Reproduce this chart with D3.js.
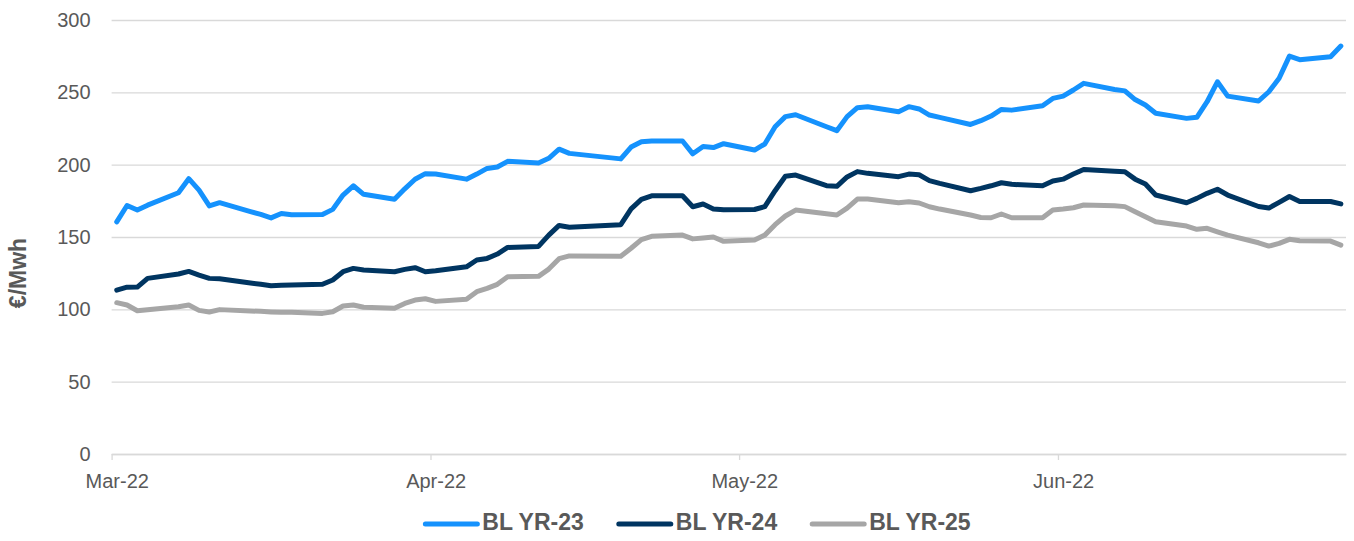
<!DOCTYPE html>
<html>
<head>
<meta charset="utf-8">
<script src="https://cdn.jsdelivr.net/npm/d3@7.9.0/dist/d3.min.js"></script>
<style>
  html, body { margin: 0; padding: 0; background: #fff; }
  svg { display: block; font-family: "Liberation Sans", Arial, sans-serif; }
</style>
</head>
<body>
<svg id="chart" width="1354" height="541"></svg>
<script>
// trading days, Mar-Jun 2022
const dates = [
  "2022-03-01","2022-03-02","2022-03-03","2022-03-04","2022-03-07","2022-03-08","2022-03-09","2022-03-10","2022-03-11",
  "2022-03-14","2022-03-15","2022-03-16","2022-03-17","2022-03-18","2022-03-21","2022-03-22","2022-03-23","2022-03-24",
  "2022-03-25","2022-03-28","2022-03-29","2022-03-30","2022-03-31",
  "2022-04-01","2022-04-04","2022-04-05","2022-04-06","2022-04-07","2022-04-08","2022-04-11","2022-04-12","2022-04-13",
  "2022-04-14","2022-04-19","2022-04-20","2022-04-21","2022-04-22","2022-04-25","2022-04-26","2022-04-27","2022-04-28",
  "2022-04-29",
  "2022-05-02","2022-05-03","2022-05-04","2022-05-05","2022-05-06","2022-05-09","2022-05-10","2022-05-11","2022-05-12",
  "2022-05-13","2022-05-16","2022-05-17","2022-05-18","2022-05-19","2022-05-20","2022-05-23","2022-05-24","2022-05-25",
  "2022-05-26","2022-05-27","2022-05-30","2022-05-31",
  "2022-06-01","2022-06-02","2022-06-03","2022-06-06","2022-06-07","2022-06-08","2022-06-09","2022-06-10","2022-06-13",
  "2022-06-14","2022-06-15","2022-06-16","2022-06-17","2022-06-20","2022-06-21","2022-06-22","2022-06-23","2022-06-24",
  "2022-06-27","2022-06-28"
];

const yr23 = [
  160.5, 171.8, 168.6, 172.0, 180.6, 190.3, 182.4, 171.5, 173.7, 167.6, 165.6, 163.2, 166.3, 165.4, 165.6, 169.1, 179.0, 185.4, 179.5, 176.1, 183.3, 189.9, 193.8,
  193.5, 190.0, 193.5, 197.4, 198.4, 202.3, 201.2, 204.4, 210.7, 207.8, 204.0, 212.2, 215.9, 216.4, 216.4, 207.5, 212.6, 211.8, 214.5,
  210.1, 214.3, 226.2, 233.2, 234.5, 226.2, 223.5, 233.2, 239.4, 240.0, 236.6, 240.1, 238.5, 234.3, 232.7, 227.8, 230.4, 233.6, 238.2, 237.7, 240.7, 245.8,
  247.4, 251.6, 256.2, 252.0, 251.0, 245.0, 241.2, 235.5, 232.0, 232.7, 243.5, 257.3, 247.4, 244.0, 250.4, 259.7, 275.0, 272.6, 274.6, 282.0
];
const yr24 = [
  113.3, 115.3, 115.4, 121.4, 124.4, 126.2, 123.7, 121.4, 121.1, 118.2, 117.3, 116.3, 116.6, 116.8, 117.3, 120.3, 126.0, 128.3, 127.2, 126.0, 127.6, 128.8, 126.0,
  126.7, 129.4, 134.1, 135.2, 138.2, 142.8, 143.5, 151.3, 158.0, 156.8, 158.5, 169.4, 176.0, 178.5, 178.5, 170.9, 172.8, 169.4, 168.8,
  169.0, 171.0, 182.0, 192.0, 192.8, 185.5, 185.0, 191.5, 195.2, 194.0, 191.7, 193.5, 193.0, 189.0, 187.1, 182.0, 183.6, 185.4, 187.5, 186.4, 185.4, 188.7,
  190.0, 193.5, 196.7, 195.5, 195.1, 190.0, 186.6, 179.0, 173.7, 176.7, 180.2, 183.0, 179.0, 171.1, 170.0, 173.9, 178.0, 174.5, 174.5, 172.9
];
const yr25 = [
  104.6, 103.0, 99.0, 99.7, 101.8, 103.0, 99.3, 98.2, 99.8, 98.9, 98.6, 98.2, 97.9, 97.9, 97.2, 98.3, 102.3, 103.0, 101.4, 100.7, 104.1, 106.4, 107.3,
  105.5, 106.9, 112.2, 114.5, 117.3, 122.5, 122.8, 127.8, 135.0, 136.9, 136.7, 142.2, 148.2, 150.5, 151.3, 148.7, 149.3, 150.0, 147.0,
  148.0, 151.3, 158.5, 164.5, 168.6, 166.0, 165.2, 170.0, 176.2, 176.2, 173.7, 174.4, 173.5, 170.9, 169.3, 165.2, 163.5, 163.3, 165.9, 163.3, 163.3, 168.6,
  169.3, 170.2, 172.1, 171.6, 171.0, 167.5, 164.0, 160.5, 157.6, 155.3, 156.0, 153.6, 151.3, 146.0, 143.7, 145.6, 148.4, 147.4, 147.2, 144.4
];

const seriesNames = ["BL YR-23", "BL YR-24", "BL YR-25"];
const seriesColors = ["#1592fd", "#003561", "#a6a6a6"];
const monthTicks = ["2022-03-01", "2022-04-01", "2022-05-01", "2022-06-01"];
const yTicks = [0, 50, 100, 150, 200, 250, 300];

const parse = d3.timeParse("%Y-%m-%d");
const svg = d3.select("#chart");

const plotLeft = 111.6, plotRight = 1346, plotTop = 20, plotBottom = 454;

const x = d3.scaleTime()
  .domain([parse("2022-03-01"), parse("2022-06-29")])
  .range([plotLeft, plotRight]);
const y = d3.scaleLinear().domain([0, 300]).range([plotBottom, plotTop]);

// gridlines + y labels
const yAxis = svg.append("g")
  .attr("transform", `translate(${plotLeft},0)`)
  .call(d3.axisLeft(y).tickValues(yTicks).tickSize(-(plotRight - plotLeft)).tickPadding(21));
yAxis.select(".domain").remove();
yAxis.selectAll("line").attr("stroke", "#d9d9d9").attr("stroke-width", 1.3);
yAxis.selectAll("text").attr("fill", "#595959").style("font-size", "20px");

// x axis
const halfDay = x(d3.timeHour.offset(parse("2022-03-01"), 12)) - x(parse("2022-03-01"));
const xAxis = svg.append("g")
  .attr("transform", `translate(0,${plotBottom})`)
  .call(d3.axisBottom(x)
    .tickValues(monthTicks.map(parse))
    .tickSize(6)
    .tickSizeOuter(0)
    .tickFormat(d3.timeFormat("%b-%y")));
xAxis.select(".domain").attr("stroke", "#d9d9d9").attr("stroke-width", 1.5);
xAxis.selectAll("line").attr("stroke", "#d9d9d9").attr("stroke-width", 1.3);
xAxis.selectAll("text")
  .attr("fill", "#595959")
  .style("font-size", "20px")
  .attr("x", halfDay)
  .attr("y", 27)
  .attr("dy", "0.35em");

// y title
svg.append("text")
  .attr("transform", "translate(20,273) rotate(-90)")
  .attr("text-anchor", "middle")
  .attr("dominant-baseline", "middle")
  .attr("fill", "#595959")
  .style("font-size", "23px")
  .style("font-weight", "bold")
  .text("€/Mwh");

// lines
const allSeries = [yr23, yr24, yr25];
const line = d3.line()
  .x((d, i) => x(d3.timeHour.offset(parse(dates[i]), 12)))
  .y(d => y(d));

allSeries.forEach((vals, idx) => {
  svg.append("path")
    .datum(vals)
    .attr("d", line)
    .attr("fill", "none")
    .attr("stroke", seriesColors[idx])
    .attr("stroke-width", 5)
    .attr("stroke-linejoin", "round")
    .attr("stroke-linecap", "round");
});

// legend
const legend = svg.append("g");
let lx = 0;
seriesNames.forEach((name, idx) => {
  const g = legend.append("g").attr("transform", `translate(${lx},0)`);
  g.append("line")
    .attr("x1", 2).attr("x2", 54)
    .attr("y1", 0).attr("y2", 0)
    .attr("stroke", seriesColors[idx])
    .attr("stroke-width", 5)
    .attr("stroke-linecap", "round");
  const t = g.append("text")
    .attr("x", 59)
    .attr("dominant-baseline", "middle")
    .attr("fill", "#595959")
    .style("font-size", "23px")
    .style("font-weight", "bold")
    .text(name);
  lx += 59 + t.node().getComputedTextLength() + 33;
});
const legendWidth = lx - 33;
legend.attr("transform", `translate(${697 - legendWidth / 2},524)`);
</script>
</body>
</html>
